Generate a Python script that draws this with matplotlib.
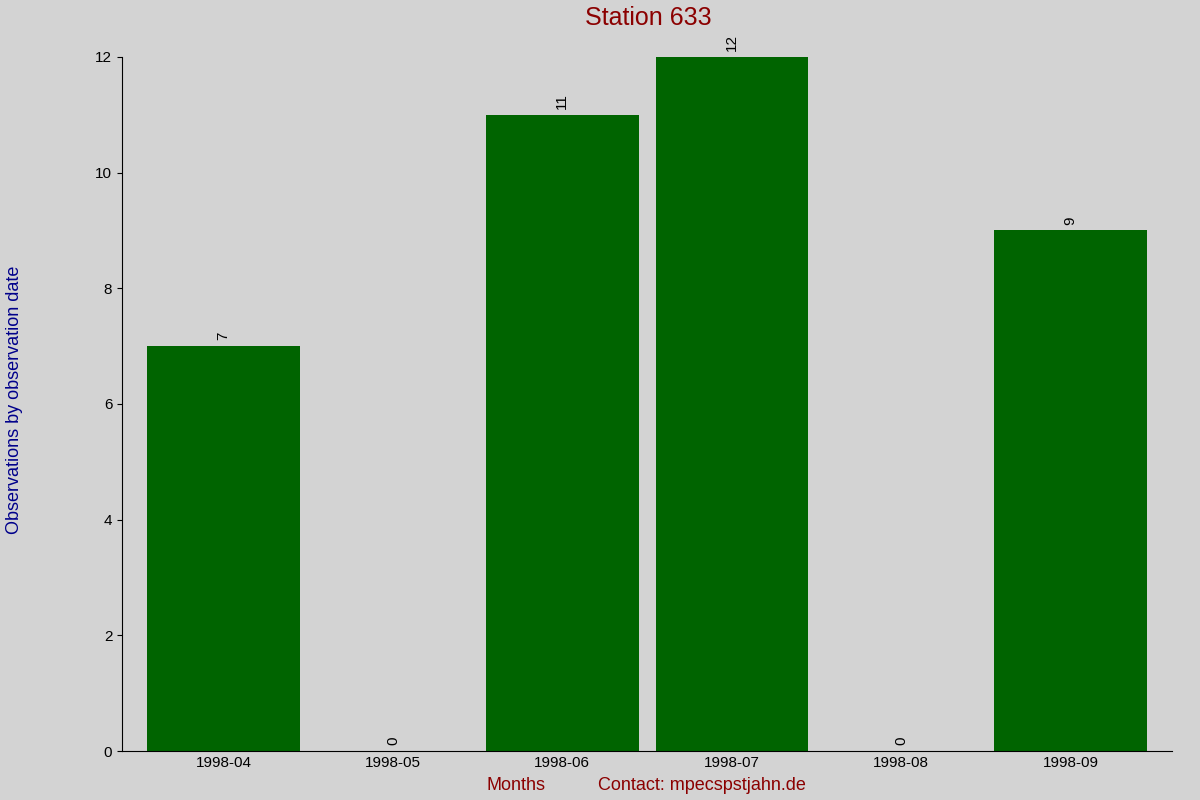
import matplotlib
matplotlib.use('Agg')
import matplotlib.pyplot as plt

months = ["1998-04", "1998-05", "1998-06", "1998-07", "1998-08", "1998-09"]
counts = [7, 0, 11, 12, 0, 9]

plt.rcParams['font.family'] = ['Liberation Sans', 'DejaVu Sans']
fig = plt.figure(figsize=(12, 8), dpi=100, facecolor='#d3d3d3')
ax = fig.add_axes([0.1017, 0.061, 0.875, 0.868], facecolor='#d3d3d3')

x = range(len(months))
bars = ax.bar(x, counts, width=0.9, color='#006400')
for xi, v in zip(x, counts):
    ax.text(xi, v + 0.1, str(v), rotation=90, ha='center', va='bottom', fontsize=11)

ax.set_xlim(-0.6, len(months) - 0.4)
ax.set_ylim(0, 12)
ax.set_xticks(list(x))
ax.set_xticklabels(months, fontsize=11)
ax.set_yticks(range(0, 13, 2))
ax.tick_params(axis='y', labelsize=11)
ax.tick_params(axis='x', length=0)
for s in ['top', 'right']:
    ax.spines[s].set_visible(False)

fig.text(0.54, 0.978, "Station 633", ha='center', va='center', fontsize=18, color='#8b0000')
fig.text(0.012, 0.5, "Observations by observation date", rotation=90, ha='center', va='center',
         fontsize=13, color='#00008b')
fig.text(0.43, 0.018, "Months", ha='center', va='center', fontsize=13, color='#8b0000')
fig.text(0.585, 0.018, "Contact: mpecspstjahn.de", ha='center', va='center', fontsize=13, color='#8b0000')

fig.savefig('out.png', dpi=100, facecolor=fig.get_facecolor())
